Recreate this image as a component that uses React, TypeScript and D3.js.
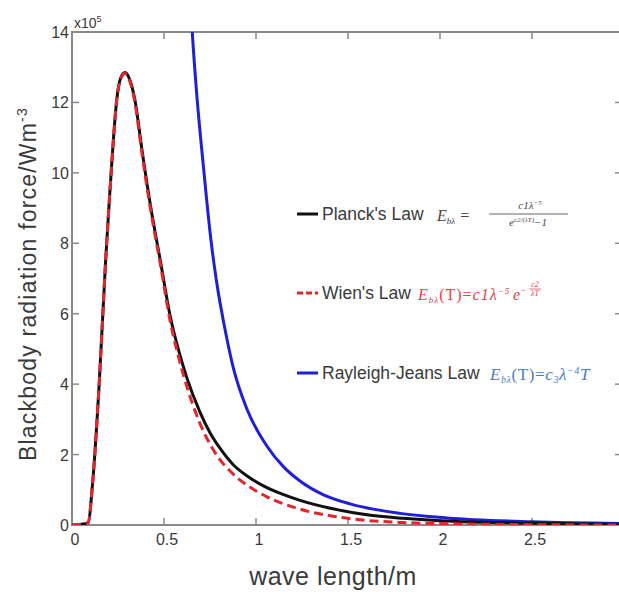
import React from 'react';
import * as d3 from 'd3';

// values (x: wave length, y: radiation force x10^5)
const planckX = [0, 0.087, 0.112, 0.148, 0.183, 0.203, 0.221, 0.243, 0.265, 0.288, 0.31, 0.342, 0.379, 0.424, 0.482, 0.533, 0.58, 0.623, 0.696, 0.75, 0.804, 0.875, 0.95, 1.03, 1.15, 1.239, 1.418, 1.603, 1.8, 2.0, 2.5, 3.0];
const planckY = [0, 0.06, 1.19, 4.03, 7.53, 9.23, 10.65, 12.07, 12.7, 12.85, 12.7, 12.07, 10.7, 9.15, 7.45, 5.95, 4.95, 4.2, 3.2, 2.62, 2.18, 1.72, 1.4, 1.14, 0.86, 0.7, 0.46, 0.29, 0.19, 0.12, 0.05, 0.02];

const wienX = [0, 0.087, 0.112, 0.148, 0.183, 0.203, 0.221, 0.243, 0.265, 0.288, 0.31, 0.342, 0.379, 0.424, 0.482, 0.533, 0.58, 0.623, 0.696, 0.766, 0.875, 0.96, 1.06, 1.239, 1.418, 1.603, 1.8, 2.0, 2.5, 3.0];
const wienY = [0, 0.06, 1.19, 4.03, 7.53, 9.23, 10.65, 12.07, 12.68, 12.82, 12.66, 12.0, 10.6, 9.05, 7.35, 5.8, 4.75, 3.95, 2.88, 2.15, 1.45, 1.1, 0.8, 0.45, 0.25, 0.13, 0.07, 0.04, 0.01, 0];

const rayleighX = [0.64, 0.654, 0.68, 0.712, 0.755, 0.786, 0.83, 0.875, 0.95, 1.058, 1.15, 1.239, 1.37, 1.511, 1.783, 2.038, 2.5, 3.0];
const rayleighY = [15.3, 13.97, 12.1, 10.3, 8.1, 6.9, 5.6, 4.5, 3.3, 2.25, 1.65, 1.25, 0.85, 0.6, 0.33, 0.2, 0.09, 0.04];

const xTicks = [0, 0.5, 1, 1.5, 2, 2.5, 3];
const yTicks = [0, 2, 4, 6, 8, 10, 12, 14];

const W = 619;
const H = 592;
const left = 72, right = 624, top = 32, bottom = 525;

const x = d3.scaleLinear().domain([0, 3]).range([left, right]);
const y = d3.scaleLinear().domain([0, 14]).range([bottom, top]);

const toPts = (xs: number[], ys: number[]) => xs.map((v, i) => [v, ys[i]] as [number, number]);

const line = d3
  .line<[number, number]>()
  .x((d) => x(d[0]))
  .y((d) => y(d[1]))
  .curve(d3.curveMonotoneX);

const axisColor = '#8a8a8a';
const textColor = '#3a3a3a';
const sans = '"Liberation Sans", Arial, sans-serif';
const serif = '"Liberation Serif", "DejaVu Serif", serif';
const wienColor = '#e8404a';
const rjColor = '#4a7ad0';

export default function App() {
  return (
    <svg
      width={W}
      height={H}
      style={{ position: 'absolute', left: 0, top: 0, background: '#fff' }}
      fontFamily={sans}
    >
      <defs>
        <clipPath id="plot">
          <rect x={left} y={top} width={right - left} height={bottom - top} />
        </clipPath>
      </defs>

      {/* frame */}
      <rect x={left} y={top} width={right - left} height={bottom - top} fill="none" stroke={axisColor} strokeWidth={2} />

      {/* ticks, pointing inward */}
      {xTicks.map((t) => (
        <g key={'x' + t}>
          <line x1={x(t)} x2={x(t)} y1={bottom} y2={bottom - 7} stroke={axisColor} strokeWidth={1.5} />
          <line x1={x(t)} x2={x(t)} y1={top} y2={top + 7} stroke={axisColor} strokeWidth={1.5} />
          <text x={x(t) + 3} y={bottom + 20} fontSize={16} fill={textColor} textAnchor="middle">
            {t}
          </text>
        </g>
      ))}
      {yTicks.map((t) => (
        <g key={'y' + t}>
          <line x1={left} x2={left + 7} y1={y(t)} y2={y(t)} stroke={axisColor} strokeWidth={1.5} />
          <line x1={right} x2={right - 9} y1={y(t)} y2={y(t)} stroke={axisColor} strokeWidth={1.5} />
          <text x={left - 3} y={y(t) + 6} fontSize={16} fill={textColor} textAnchor="end">
            {t}
          </text>
        </g>
      ))}

      <text x={left + 2} y={top - 4} fontSize={14} fill={textColor}>
        x10<tspan dy={-6} fontSize={9}>5</tspan>
      </text>

      {/* curves */}
      <g clipPath="url(#plot)" fill="none" strokeWidth={3}>
        <path d={line(toPts(rayleighX, rayleighY)) || ''} stroke="#1f1fd6" />
        <path d={line(toPts(planckX, planckY)) || ''} stroke="#111" />
        <path d={line(toPts(wienX, wienY)) || ''} stroke="#e3262c" strokeDasharray="9 5" />
      </g>

      {/* legend */}
      <g>
        <line x1={297} x2={318} y1={214} y2={214} stroke="#111" strokeWidth={3} />
        <text x={322} y={220} fontSize={17.5} fill={textColor}>Planck's Law</text>
        <text x={437} y={221} fontSize={16} fontFamily={serif} fontStyle="italic" fill="#444">
          E<tspan dy={3} fontSize={9}>bλ</tspan>
          <tspan dy={-3} dx={5} fontStyle="normal">=</tspan>
        </text>
        <line x1={489} x2={568} y1={214} y2={214} stroke="#555" strokeWidth={0.9} />
        <text x={530} y={209} fontSize={11} fontFamily={serif} fontStyle="italic" fill="#444" textAnchor="middle">
          c1λ<tspan dy={-4} fontSize={7}>−5</tspan>
        </text>
        <text x={528} y={226} fontSize={11} fontFamily={serif} fontStyle="italic" fill="#444" textAnchor="middle">
          e<tspan dy={-4} fontSize={7}>c2/(λT)</tspan>
          <tspan dy={4}>−1</tspan>
        </text>

        <line x1={297} x2={318} y1={293} y2={293} stroke="#e3262c" strokeWidth={3} strokeDasharray="6 3" />
        <text x={322} y={299} fontSize={17.5} fill={textColor}>Wien's Law</text>
        <text x={418} y={300} fontSize={16} fontFamily={serif} fontStyle="italic" fill={wienColor} letterSpacing={1}>
          E<tspan dy={3} fontSize={9}>bλ</tspan>
          <tspan dy={-3} fontStyle="normal">(T)=</tspan>
          c1λ<tspan dy={-6} fontSize={9}>−5</tspan>
        </text>
        <text x={513} y={300} fontSize={16} fontFamily={serif} fontStyle="italic" fill={wienColor}>
          e<tspan dy={-7} fontSize={9}>−</tspan>
        </text>
        <text x={535} y={287} fontSize={8} fontFamily={serif} fontStyle="italic" fill={wienColor} textAnchor="middle">
          c2
        </text>
        <line x1={529} x2={541} y1={289} y2={289} stroke={wienColor} strokeWidth={0.7} />
        <text x={535} y={296} fontSize={8} fontFamily={serif} fontStyle="italic" fill={wienColor} textAnchor="middle">
          λT
        </text>

        <line x1={297} x2={318} y1={373} y2={373} stroke="#1f1fd6" strokeWidth={3} />
        <text x={322} y={379} fontSize={17.5} fill={textColor}>Rayleigh-Jeans Law</text>
        <text x={490} y={380} fontSize={17} fontFamily={serif} fontStyle="italic" fill={rjColor} letterSpacing={0.6}>
          E<tspan dy={3} fontSize={10}>bλ</tspan>
          <tspan dy={-3} fontStyle="normal">(T)=</tspan>
          c<tspan dy={3} fontSize={10}>3</tspan>
          <tspan dy={-3}>λ</tspan>
          <tspan dy={-6} fontSize={10}>−4</tspan>
          <tspan dy={6}>T</tspan>
        </text>
      </g>

      {/* axis titles */}
      <text x={333} y={585} fontSize={25} fill={textColor} textAnchor="middle" letterSpacing={0.5}>
        wave length/m
      </text>
      <text transform="translate(36,284) rotate(-90)" fontSize={23} fill={textColor} textAnchor="middle" letterSpacing={1.2}>
        Blackbody radiation force/Wm<tspan dy={-9} fontSize={14}>-3</tspan>
      </text>
    </svg>
  );
}
